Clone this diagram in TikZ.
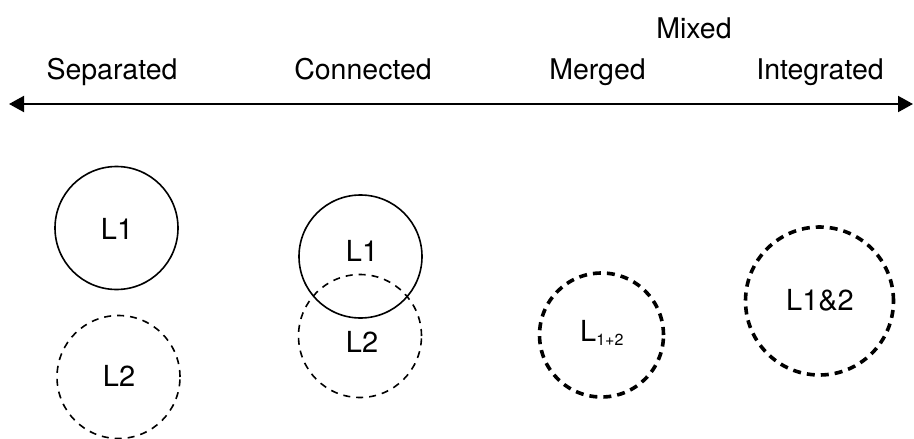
\documentclass[tikz,border=0pt]{standalone}
\usepackage{fontspec}
\setmainfont{TeX Gyre Heros}
\usetikzlibrary{arrows.meta}
\begin{document}
\begin{tikzpicture}[x=1pt,y=-1pt,
  lbl/.style={font=\fontsize{28.5}{34}\selectfont, inner sep=0pt, anchor=base},
  ctext/.style={font=\fontsize{29}{34}\selectfont, inner sep=0pt},
  ring/.style={circle, inner sep=0pt, draw=black, line width=1.6pt},
  thinring/.style={ring, dash pattern=on 7pt off 6pt},
  boldring/.style={circle, inner sep=0pt, draw=black, line width=3.6pt, dash pattern=on 8pt off 6pt}]
\useasboundingbox (0,0) rectangle (914,439);

% axis
\coordinate (leftend) at (9,104);
\coordinate (rightend) at (913,104);
\draw[line width=2pt, {Triangle[length=15pt,width=16pt]}-{Triangle[length=15pt,width=16pt]}] (leftend) -- (rightend);

% category labels
\node[lbl] (sep) at (112,79) {Separated};
\node[lbl] (con) at (363,79) {Connected};
\node[lbl] (mer) at (597.5,79) {Merged};
\node[lbl] (int) at (820,79) {Integrated};
\node[lbl] (mix) at (694,38) {Mixed};

% separated
\node[ring, minimum size=123pt] (s1) at (116.5,228) {};
\node[thinring, minimum size=123pt] (s2) at (118.5,377) {};
\node[ctext] (s1t) at (117,229) {L1};
\node[ctext] (s2t) at (119,376) {L2};

% connected
\node[ring, minimum size=123pt] (c1) at (360.5,256.5) {};
\node[thinring, minimum size=123pt] (c2) at (360,336) {};
\node[ctext] (c1t) at (362,251) {L1};
\node[ctext] (c2t) at (362,342) {L2};

% merged
\node[boldring, minimum size=124pt] (m) at (601.5,335) {};
\node[inner sep=0pt, anchor=base west] (mt) at (580,341) {\fontsize{29}{34}\selectfont L\raisebox{-4pt}{\fontsize{16}{19}\selectfont 1+2}};

% integrated
\node[boldring, minimum size=148pt] (i) at (819.5,301) {};
\node[ctext] (it) at (820,300) {L1\&2};
\end{tikzpicture}
\end{document}
